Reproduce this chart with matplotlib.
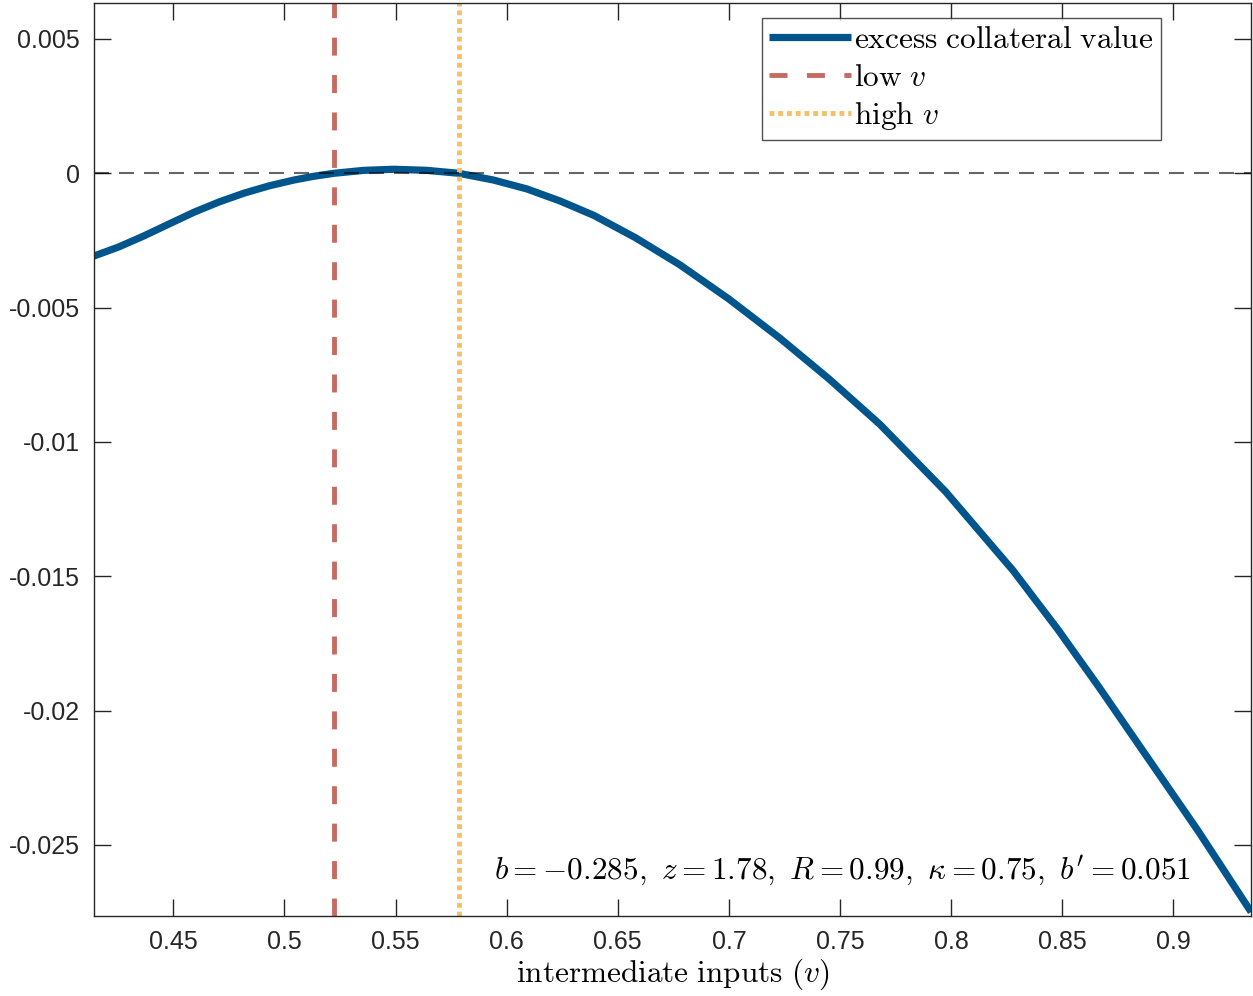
import numpy as np
import matplotlib
matplotlib.use("Agg")
import matplotlib.pyplot as plt

plt.rcParams['mathtext.fontset'] = 'cm'
plt.rcParams['axes.unicode_minus'] = False

# excess collateral value
v = [0.4143, 0.4255, 0.4368, 0.4480, 0.4593, 0.4705, 0.4818, 0.4930, 0.5043,
     0.5133, 0.5223, 0.5358, 0.5493, 0.5640, 0.5785, 0.5940, 0.6090, 0.6240,
     0.6393, 0.6580, 0.6780, 0.7000, 0.7230, 0.7450, 0.7680, 0.7975, 0.8280,
     0.8482, 0.8663, 0.8813, 0.8963, 0.9113, 0.9350]
excess = [-0.00308, -0.00274, -0.00233, -0.00189, -0.00145, -0.00107, -0.00074,
          -0.00047, -0.00025, -0.00011, 0.00000, 0.00011, 0.00015, 0.00011,
          0.00000, -0.00025, -0.00058, -0.00103, -0.00157, -0.00240, -0.00341,
          -0.00468, -0.00614, -0.00765, -0.00935, -0.01185, -0.01480, -0.01700,
          -0.01910, -0.02090, -0.02270, -0.02450, -0.02750]

v_low = 0.5223
v_high = 0.5785

xticks = [0.45, 0.5, 0.55, 0.6, 0.65, 0.7, 0.75, 0.8, 0.85, 0.9]
xticklabels = ['0.45', '0.5', '0.55', '0.6', '0.65', '0.7', '0.75', '0.8', '0.85', '0.9']
yticks = [-0.025, -0.02, -0.015, -0.01, -0.005, 0, 0.005]
yticklabels = ['-0.025', '-0.02', '-0.015', '-0.01', '-0.005', '0', '0.005']

blue = '#00568C'
red = '#C76B60'
yellow = '#F4C06A'
axcol = '#262626'

fig = plt.figure(figsize=(12.53, 9.96), dpi=100)
ax = fig.add_axes([0.075, 0.0803, 0.9235, 0.9167])

ax.plot(v, excess, color=blue, lw=5.2, solid_capstyle='butt', solid_joinstyle='round',
        label=r'$\mathrm{excess\ collateral\ value}$')
ax.axvline(v_low, color=red, lw=3.5, dashes=(3.7, 4.0), dash_capstyle='butt',
           label=r'$\mathrm{low}\ v$')
ax.axvline(v_high, color=yellow, lw=3.5, dashes=(1.0, 0.8), dash_capstyle='butt',
           label=r'$\mathrm{high}\ v$')
ax.axhline(0, color='k', alpha=0.6, lw=1.5, dashes=(7.2, 4.8))

ax.set_xlim(0.4143, 0.935)
ax.set_ylim(-0.02765, 0.00634)
ax.set_xticks(xticks)
ax.set_xticklabels(xticklabels, family='Liberation Sans', fontsize=18, color=axcol)
ax.set_yticks(yticks)
ax.set_yticklabels(yticklabels, family='Liberation Sans', fontsize=18, color=axcol)
ax.tick_params(direction='in', length=12, width=1, color=axcol, top=True, right=True,
               pad=10)
ax.tick_params(axis='y', pad=10)
for s in ax.spines.values():
    s.set_color(axcol)
    s.set_linewidth(1)

ax.set_xlabel(r'$\mathrm{intermediate\ inputs}\ (v)$', fontsize=22.5, labelpad=2)

ax.text(0.948, 0.05, r"$b=-0.285,\ z=1.78,\ R=0.99,\ \kappa=0.75,\ b'=0.051$",
        transform=ax.transAxes, ha='right', va='center', fontsize=22.5)

leg = ax.legend(loc='upper left', bbox_to_anchor=(0.577, 0.984), fontsize=22.5,
                frameon=True, fancybox=False, borderaxespad=0, borderpad=0.25,
                handlelength=2.6, handletextpad=0.1, labelspacing=0.27)
leg.get_frame().set_edgecolor(axcol)
leg.get_frame().set_linewidth(1)

fig.savefig('out.png', dpi=100)
